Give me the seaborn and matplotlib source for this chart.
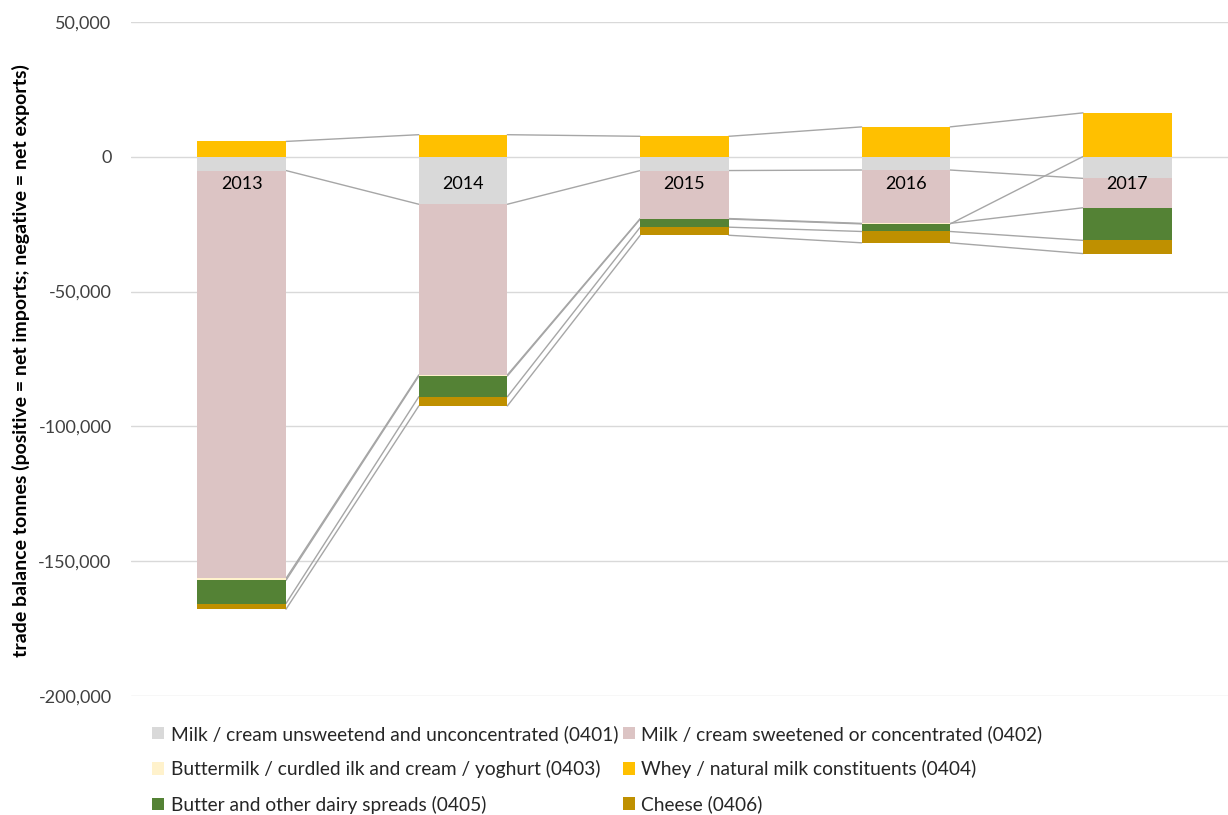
import matplotlib
matplotlib.use("Agg")
import matplotlib.pyplot as plt
from matplotlib.ticker import FuncFormatter, MultipleLocator
import seaborn as sns
import numpy as np
import pandas as pd

years = ["2013", "2014", "2015", "2016", "2017"]
series_names = [
    "Milk / cream unsweetend and unconcentrated (0401)",
    "Milk / cream sweetened or concentrated (0402)",
    "Buttermilk / curdled ilk and cream / yoghurt (0403)",
    "Whey / natural milk constituents (0404)",
    "Butter and other dairy spreads (0405)",
    "Cheese (0406)",
]
milk_0401 = [-5100, -17600, -5100, -4900, -8000]
milk_0402 = [-151300, -63300, -17800, -19800, -10900]
buttermilk_0403 = [-700, -400, -200, -200, 100]
whey_0404 = [5700, 8200, 7600, 11100, 16200]
butter_0405 = [-8600, -7700, -3000, -2800, -12100]
cheese_0406 = [-2100, -3400, -3000, -4200, -4900]
colors = ["#D9D9D9", "#DCC4C4", "#FFF2CC", "#FFC000", "#548235", "#BF9000"]

values = [milk_0401, milk_0402, buttermilk_0403, whey_0404, butter_0405, cheese_0406]

sns.set_theme(style="white")
plt.rcParams["font.family"] = ["Lato", "DejaVu Sans"]

fig = plt.figure(figsize=(12.28, 8.15), dpi=100)
ax = fig.add_axes([131 / 1228, 1 - 696 / 815, (1238 - 131) / 1228, (696 - 22) / 815])

bar_w = 0.40
pos_cum = np.zeros(len(years))
neg_cum = np.zeros(len(years))
ends = []
for name, vals, col in zip(series_names, values, colors):
    v = np.array(vals, dtype=float)
    bottoms = np.where(v >= 0, pos_cum, neg_cum)
    df = pd.DataFrame({"year": years, "value": v})
    sns.barplot(data=df, x="year", y="value", order=years, color=col,
                width=bar_w, errorbar=None, bottom=bottoms, ax=ax,
                linewidth=0, saturation=1, label=name, zorder=3)
    end = bottoms + v
    ends.append(end)
    pos_cum = np.where(v >= 0, end, pos_cum)
    neg_cum = np.where(v < 0, end, neg_cum)

# series lines
for end in ends:
    for i in range(len(years) - 1):
        ax.plot([i + bar_w / 2, i + 1 - bar_w / 2], [end[i], end[i + 1]],
                color="#A6A6A6", lw=1.0, zorder=2)

# year labels inside bars
for i, y in enumerate(years):
    ax.text(i, -10000, y, ha="center", va="center", fontsize=13, color="black", zorder=5)

ax.set_xlim(-0.5, 4.5)
ax.set_ylim(-200000, 50000)
ax.yaxis.set_major_locator(MultipleLocator(50000))
ax.yaxis.set_major_formatter(FuncFormatter(lambda v, p: f"{int(round(v)):,}"))
ax.grid(axis="y", color="#D9D9D9", lw=1, zorder=0)
ax.set_axisbelow(True)
for s in ax.spines.values():
    s.set_visible(False)
ax.set_xticks([])
ax.set_xlabel("")
ax.set_ylabel("")
ax.tick_params(axis="y", length=0, labelsize=13, labelcolor="#404040", pad=14)

fig.text(21 / 1228, 1 - 361 / 815,
         "trade balance tonnes (positive = net imports; negative = net exports)",
         rotation=90, ha="center", va="center", fontsize=14, fontweight="bold",
         color="black")

handles, labels = ax.get_legend_handles_labels()
order = [0, 2, 4, 1, 3, 5]
if ax.get_legend() is not None:
    ax.get_legend().remove()
fig.legend([handles[k] for k in order], [labels[k] for k in order],
           ncol=2, loc="upper left", bbox_to_anchor=(152 / 1228, 1 - 725 / 815),
           frameon=False, fontsize=13.8, handlelength=0.62, handleheight=0.62,
           handletextpad=0.35, columnspacing=0.25, labelspacing=0.9,
           borderaxespad=0, borderpad=0)

fig.savefig("out.png", dpi=100)
